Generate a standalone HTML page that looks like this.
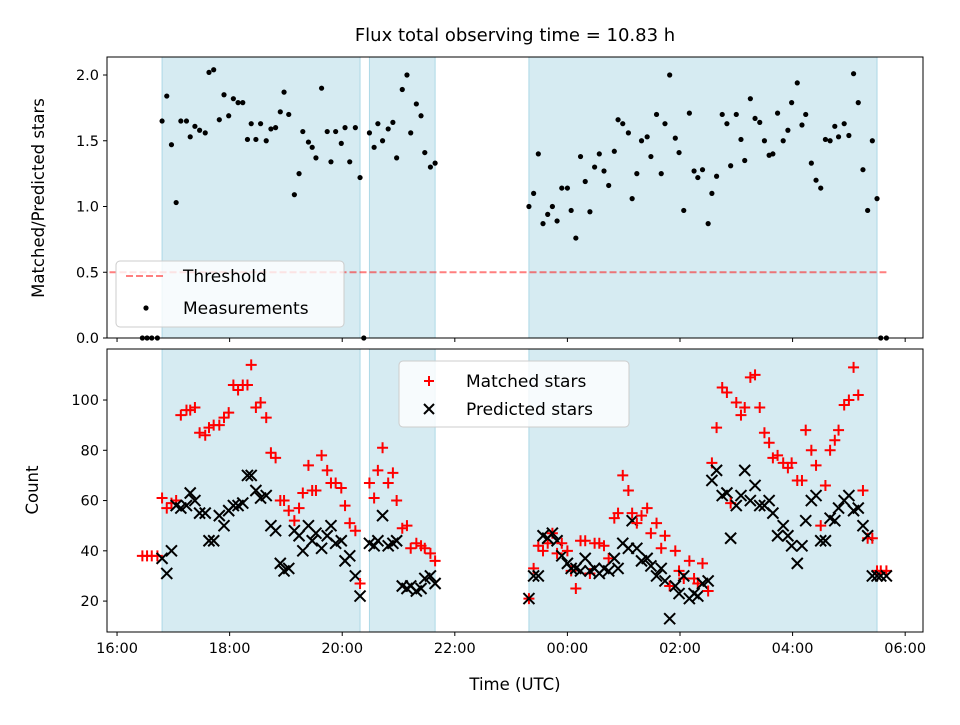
<!DOCTYPE html>
<html><head><meta charset="utf-8"><style>
body{margin:0;background:#fff}
svg text{font-family:"DejaVu Sans","Liberation Sans",sans-serif;fill:#000}
</style></head><body>
<svg id="chart" width="960" height="720" xmlns="http://www.w3.org/2000/svg">
<text x="515" y="41" font-size="18" text-anchor="middle">Flux total observing time = 10.83 h</text>
<g id="top"></g>
<g id="bot"></g>
</svg>
<script>
// minutes since 16:00
const times=[27,32,37,43,48,53,58,63,68,74,78,83,88,94,98,103,109,114,119,124,129,134,139,143,148,153,159,164,169,174,178,183,189,194,198,204,208,212,218,224,228,233,239,243,248,254,259,263,
269,274,278,283,289,294,298,304,309,313,319,324,328,334,339,
439,444,449,454,459,464,469,474,480,484,489,494,499,504,509,514,519,524,530,534,539,545,549,554,559,565,569,575,580,584,589,595,599,604,610,615,619,624,630,634,639,645,650,654,660,665,669,675,680,685,690,695,699,704,710,715,719,725,730,734,740,745,750,755,760,765,769,775,780,785,790,795,800,805,810,814,820];
const ratio=[0,0,0,0,1.65,1.84,1.47,1.03,1.65,1.65,1.53,1.61,1.58,1.56,2.02,2.04,1.66,1.85,1.69,1.82,1.79,1.79,1.51,1.63,1.51,1.63,1.50,1.59,1.60,1.72,1.87,1.70,1.09,1.25,1.57,1.49,1.45,1.37,1.90,1.57,1.34,1.57,1.48,1.60,1.34,1.60,1.22,0,
1.56,1.45,1.63,1.50,1.59,1.64,1.37,1.89,2.00,1.56,1.78,1.69,1.41,1.30,1.33,
1.00,1.10,1.40,0.87,0.94,1.00,0.89,1.14,1.14,0.97,0.76,1.38,1.19,0.96,1.30,1.40,1.27,1.16,1.42,1.66,1.63,1.56,1.06,1.25,1.50,1.53,1.38,1.70,1.25,1.63,2.00,1.52,1.41,0.97,1.71,1.27,1.22,1.28,0.87,1.10,1.23,1.70,1.63,1.31,1.70,1.51,1.35,1.82,1.67,1.64,1.50,1.39,1.40,1.71,1.50,1.58,1.79,1.94,1.62,1.70,1.33,1.20,1.14,1.51,1.50,1.61,1.53,1.63,1.54,2.01,1.79,1.28,0.97,1.50,1.06,0,0];
const predicted=[null,null,null,null,37,31,40,58,57,58,63,60,55,55,44,44,54,50,56,58,58,59,70,70,64,61,62,50,48,35,32,33,48,46,40,50,44,47,41,46,50,43,44,36,38,30,22,null,
43,42,44,54,42,43,44,26,25,26,24,25,29,30,27,
21,30,30,46,45,47,44,38,35,33,33,32,37,32,33,31,33,32,37,33,43,41,52,41,36,37,34,30,33,28,13,26,23,30,21,23,22,27,28,68,72,62,63,45,58,62,72,60,66,58,58,60,55,46,50,46,42,35,42,52,60,62,44,44,53,52,57,60,62,56,57,50,46,30,30,30,30];
const matched=[38,38,38,38,61,57,59,60,94,96,96,97,87,86,89,90,90,93,95,106,104,106,106,114,97,99,93,79,77,60,60,56,52,57,63,74,64,64,78,72,67,67,65,58,51,48,27,null,
67,61,72,81,67,71,60,49,50,41,43,42,41,39,36,
21,33,42,40,43,47,39,43,40,32,25,44,44,31,43,43,42,37,53,55,70,64,55,51,54,57,47,51,41,46,26,40,32,29,36,29,27,35,24,75,89,105,103,59,99,94,97,109,110,97,87,83,77,78,75,73,75,68,68,88,80,74,50,66,80,84,88,98,100,113,102,64,45,45,32,32,32];
const xTicks=["16:00","18:00","20:00","22:00","00:00","02:00","04:00","06:00"];
const topTicks=[0,0.5,1.0,1.5,2.0];
const botTicks=[20,40,60,80,100];
const shades=[[48,259],[269,339],[439,810]];
const threshold=0.5;

const NS="http://www.w3.org/2000/svg";
const L=107,R=923;
const X=m=>L+(m+10.7)/(869.7)*(R-L);
function mk(p,t,a){const e=document.createElementNS(NS,t);for(const k in a)e.setAttribute(k,a[k]);p.appendChild(e);return e;}
function panel(g,T,B,yMin,yMax,ticks,fmt,showLabels){
  const Y=v=>B-(v-yMin)/(yMax-yMin)*(B-T);
  shades.forEach(s=>{const r=mk(g,'rect',{x:X(s[0]),y:T,width:X(s[1])-X(s[0]),height:B-T,fill:'#add8e6','fill-opacity':0.5,stroke:'#add8e6'});
  
  });
  ticks.forEach(v=>{mk(g,'line',{x1:L-4,x2:L,y1:Y(v),y2:Y(v),stroke:'#000'});
    const t=mk(g,'text',{x:L-8,y:Y(v)+5,'font-size':14.5,'text-anchor':'end'});t.textContent=fmt(v);
    
    });
  xTicks.forEach((s,i)=>{const x=X(i*120);mk(g,'line',{x1:x,x2:x,y1:B,y2:B+4,stroke:'#000'});
    if(showLabels){const t=mk(g,'text',{x:x,y:B+21,'font-size':14.5,'text-anchor':'middle'});t.textContent=s;
    
    }});
  return Y;
}
const gt=document.getElementById('top'),gb=document.getElementById('bot');
const Yt=panel(gt,57,338,0,2.137,topTicks,v=>v.toFixed(1),false);
mk(gt,'line',{x1:X(-8),x2:X(820),y1:Yt(threshold),y2:Yt(threshold),stroke:'red','stroke-opacity':0.5,'stroke-width':2,'stroke-dasharray':'7,3'});
times.forEach((m,i)=>{if(ratio[i]==null)return;const c=mk(gt,'circle',{cx:X(m),cy:Yt(ratio[i]),r:2.6,fill:'#000'});
  
  });
mk(gt,'rect',{x:107,y:57,width:816,height:281,fill:'none',stroke:'#000'});
const Yb=panel(gb,349,632,7.7,120.3,botTicks,v=>String(v),true);
times.forEach((m,i)=>{const x=X(m);
  if(matched[i]!=null){const y=Yb(matched[i]);const p=mk(gb,'path',{d:`M${x-5.5},${y}H${x+5.5}M${x},${y-5.5}V${y+5.5}`,stroke:'red','stroke-width':2});
  
  }
  if(predicted[i]!=null){const y=Yb(predicted[i]);const p=mk(gb,'path',{d:`M${x-5.5},${y-5.5}L${x+5.5},${y+5.5}M${x-5.5},${y+5.5}L${x+5.5},${y-5.5}`,stroke:'#000','stroke-width':2});
  
  }
});
mk(gb,'rect',{x:107,y:349,width:816,height:283,fill:'none',stroke:'#000'});
</script>
<svg width="960" height="720" style="position:absolute;left:0;top:0" xmlns="http://www.w3.org/2000/svg">
<g>
<rect x="116" y="261" width="228" height="66" rx="4" fill="#fff" fill-opacity="0.8" stroke="#ccc"/>
<line x1="126" y1="276" x2="166" y2="276" stroke="red" stroke-opacity="0.5" stroke-width="2" stroke-dasharray="7,3"/>
<text x="183" y="282" font-size="17">Threshold</text>
<circle cx="146" cy="308" r="2.6" fill="#000"/>
<text x="183" y="314" font-size="17">Measurements</text>
</g>
<g>
<rect x="399" y="361" width="230" height="66" rx="4" fill="#fff" fill-opacity="0.8" stroke="#ccc"/>
<path d="M424,381H434M429,376V386" stroke="red" stroke-width="2"/>
<text x="466" y="387" font-size="17">Matched stars</text>
<path d="M424,404L434,414M424,414L434,404" stroke="#000" stroke-width="2"/>
<text x="466" y="415" font-size="17">Predicted stars</text>
</g>
<text x="44" y="198" font-size="16.5" text-anchor="middle" transform="rotate(-90 44 198)">Matched/Predicted stars</text>
<text x="38" y="490" font-size="16.5" text-anchor="middle" transform="rotate(-90 38 490)">Count</text>
<text x="515" y="690" font-size="16.5" text-anchor="middle">Time (UTC)</text>
</svg>
</body></html>
